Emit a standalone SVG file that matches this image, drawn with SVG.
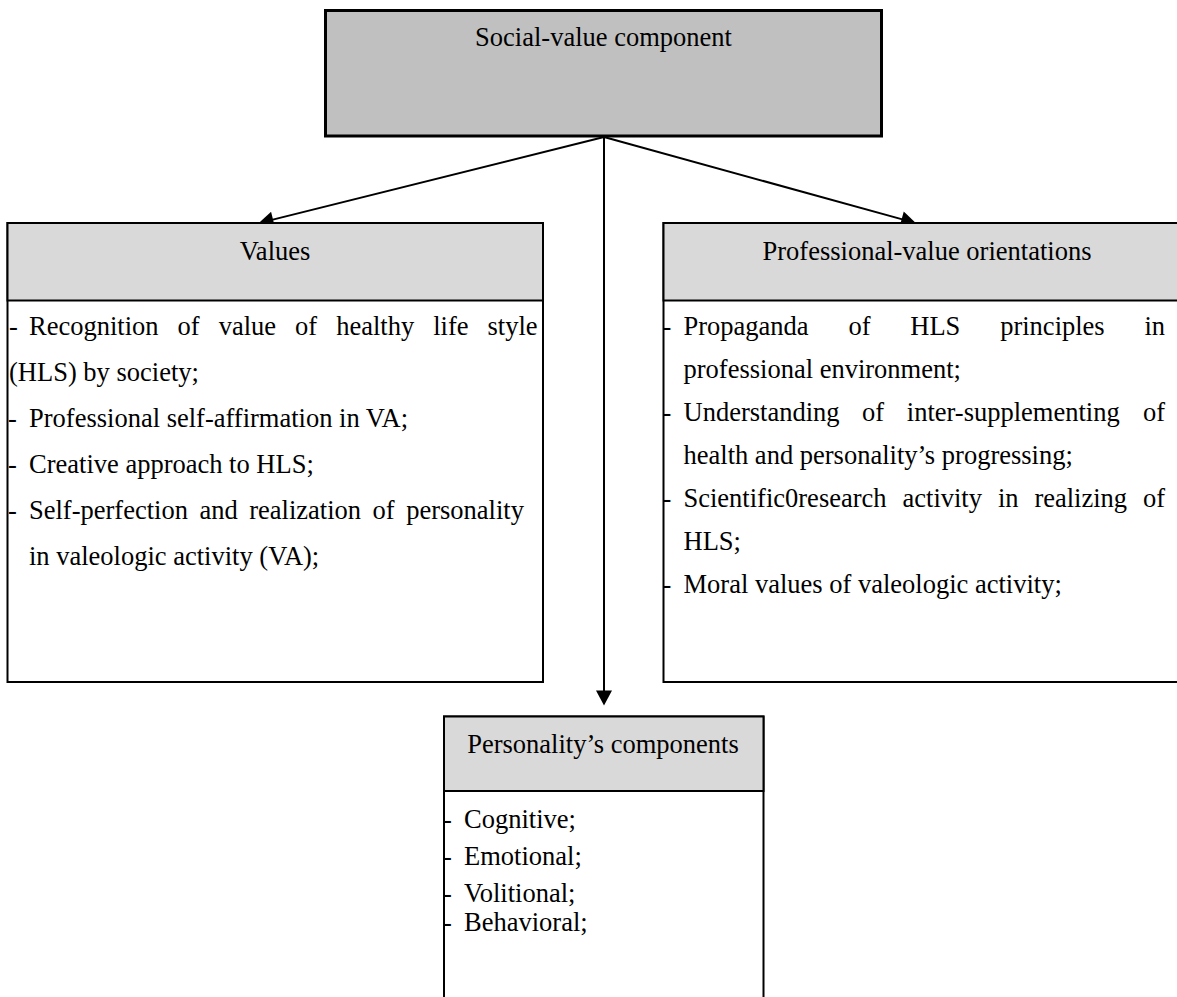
<svg xmlns="http://www.w3.org/2000/svg" width="1177" height="997" viewBox="0 0 1177 997">
<style>
text{font-family:"Liberation Serif","Times New Roman",serif;font-size:26.5px;fill:#000}
.c{text-anchor:middle}
.box{fill:#fff;stroke:#000;stroke-width:2}
.hdr{fill:#d9d9d9;stroke:#000;stroke-width:2}
.conn{stroke:#000;stroke-width:2;fill:none;marker-end:url(#ah)}
</style>
<defs>
<marker id="ah" markerUnits="userSpaceOnUse" markerWidth="16" markerHeight="16" viewBox="0 0 14 15" refX="6" refY="7.5" orient="auto">
<path d="M0,0 L14,7.5 L0,15 z" fill="#000"/>
</marker>
</defs>
<rect width="1177" height="997" fill="#fff"/>
<g id="connectors">
<line class="conn" x1="604" y1="137" x2="266.8" y2="221.1"/>
<line class="conn" x1="604" y1="137" x2="907.8" y2="220.9"/>
<line class="conn" x1="604" y1="137" x2="604" y2="697"/>
</g>
<g id="social-value">
<rect x="325.5" y="10.5" width="556" height="125.5" fill="#c0c0c0" stroke="#000" stroke-width="3"/>
<text class="c" x="603.5" y="46">Social-value component</text>
</g>
<g id="values">
<rect class="box" x="7.5" y="223" width="535.5" height="459"/>
<rect class="hdr" x="7.5" y="223" width="535.5" height="77.5"/>
<text class="c" x="275" y="260">Values</text>
<text x="9" y="335">-</text>
<text y="335"><tspan x="29">Recognition</tspan><tspan x="177.6">of</tspan><tspan x="218.7">value</tspan><tspan x="295.1">of</tspan><tspan x="336.2">healthy</tspan><tspan x="433.2">life</tspan><tspan x="487.5">style</tspan></text>
<text x="9" y="381">(HLS) by society;</text>
<text x="8" y="427">-</text>
<text x="29" y="427">Professional self-affirmation in VA;</text>
<text x="8" y="473">-</text>
<text x="29" y="473">Creative approach to HLS;</text>
<text x="8" y="519">-</text>
<text y="519"><tspan x="29">Self-perfection</tspan><tspan x="199.4">and</tspan><tspan x="249.2">realization</tspan><tspan x="372.6">of</tspan><tspan x="406.2">personality</tspan></text>
<text x="29" y="565">in valeologic activity (VA);</text>
</g>
<g id="professional-value">
<rect class="box" x="663.5" y="223" width="530" height="459"/>
<rect class="hdr" x="663.5" y="223" width="530" height="77.5"/>
<text class="c" x="927" y="260">Professional-value orientations</text>
<text x="662.5" y="335">-</text>
<text y="335"><tspan x="683.5">Propaganda</tspan><tspan x="848.4">of</tspan><tspan x="910.3">HLS</tspan><tspan x="1000.2">principles</tspan><tspan x="1144.5">in</tspan></text>
<text x="683.5" y="378">professional environment;</text>
<text x="662.5" y="421">-</text>
<text y="421"><tspan x="683.5">Understanding</tspan><tspan x="862.1">of</tspan><tspan x="906.8">inter-supplementing</tspan><tspan x="1142.9">of</tspan></text>
<text x="683.5" y="464">health and personality’s progressing;</text>
<text x="662.5" y="507">-</text>
<text y="507"><tspan x="683.5">Scientific0research</tspan><tspan x="902.5">activity</tspan><tspan x="997.9">in</tspan><tspan x="1034.4">realizing</tspan><tspan x="1143">of</tspan></text>
<text x="683.5" y="550">HLS;</text>
<text x="662.5" y="593">-</text>
<text x="683.5" y="593">Moral values of valeologic activity;</text>
</g>
<g id="personality">
<rect class="box" x="444" y="716.5" width="319.5" height="300"/>
<rect class="hdr" x="444" y="716.5" width="319.5" height="74.5"/>
<text class="c" x="603" y="753">Personality’s components</text>
<text x="443" y="828">-</text>
<text x="464" y="828">Cognitive;</text>
<text x="443" y="865">-</text>
<text x="464" y="865">Emotional;</text>
<text x="443" y="902">-</text>
<text x="464" y="902">Volitional;</text>
<text x="443" y="931">-</text>
<text x="464" y="931">Behavioral;</text>
</g>
</svg>
